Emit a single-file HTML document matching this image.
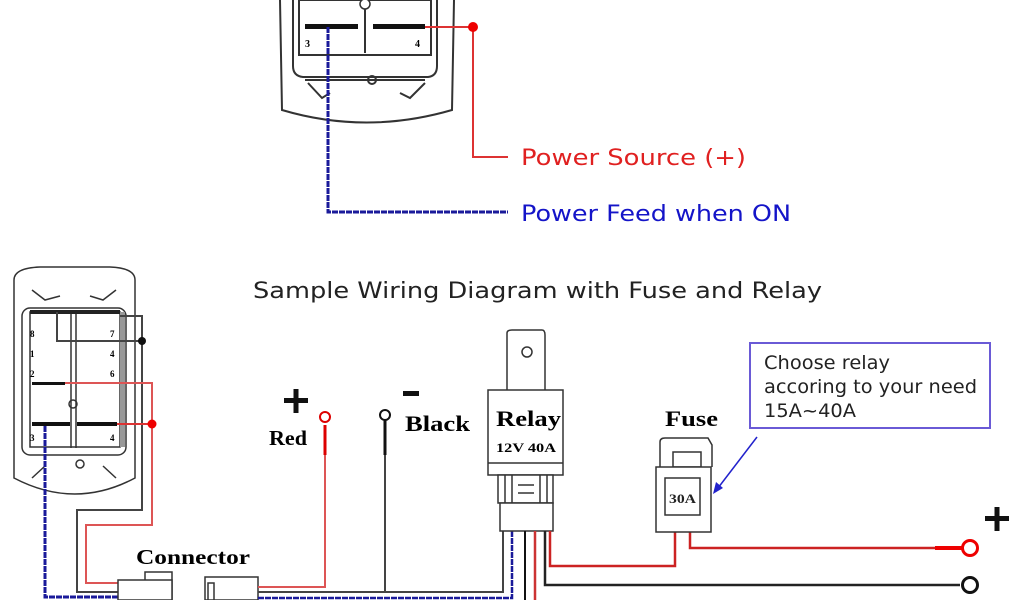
<!DOCTYPE html>
<html><head><meta charset="utf-8"><style>
html,body{margin:0;padding:0;background:#fff;width:1024px;height:600px;overflow:hidden}
svg{display:block}
.sans{font-family:"DejaVu Sans","Liberation Sans",sans-serif}
.ser{font-family:"Liberation Serif",serif;font-weight:bold}
</style></head><body>
<svg width="1024" height="600" viewBox="0 0 1024 600" xmlns="http://www.w3.org/2000/svg">
<!-- TOP SWITCH -->
<g fill="none" stroke="#333" stroke-width="2">
<path d="M280 0 L282 110 Q366 135 452 110 L454 0"/>
<path d="M293 0 L293 66 Q293 76 303 77 L428 77 Q437 76 437 66 L437 0"/>
<rect x="299" y="0" width="132" height="55"/>
<path d="M305 80 L425 80 M308 83 L322 98 L330 93 M425 83 L410 98 L400 93"/>
<circle cx="372" cy="80" r="4"/>
<line x1="365" y1="0" x2="365" y2="53"/>
</g>
<rect x="305" y="24" width="53" height="5" fill="#111"/>
<rect x="373" y="24" width="52" height="5" fill="#111"/>
<circle cx="365" cy="4" r="5" fill="#fff" stroke="#333" stroke-width="1.5"/>
<text x="305" y="47" font-size="10" class="ser">3</text>
<text x="415" y="47" font-size="10" class="ser">4</text>
<path d="M425 27 L473 27 L473 157 L508 157" fill="none" stroke="#d33" stroke-width="2"/>
<circle cx="473" cy="27" r="5" fill="#e00"/>
<path d="M328 27 L328 212 L508 212" fill="none" stroke="#1a1a9a" stroke-width="3" stroke-dasharray="6 1"/>
<text x="521" y="165" font-size="22" fill="#e02020" class="sans" textLength="225" lengthAdjust="spacingAndGlyphs">Power Source (+)</text>
<text x="521" y="221" font-size="22" fill="#1414c8" class="sans" textLength="270" lengthAdjust="spacingAndGlyphs">Power Feed when ON</text>
<text x="253" y="298" font-size="22" fill="#222" class="sans" textLength="569" lengthAdjust="spacingAndGlyphs">Sample Wiring Diagram with Fuse and Relay</text>

<!-- BOTTOM SWITCH -->
<g fill="none" stroke="#333" stroke-width="1.5">
<path d="M14 280 Q14 268 40 267 L110 267 Q135 268 135 280 L135 478 Q75 510 14 478 Z"/>
<rect x="22" y="308" width="104" height="147" rx="8"/>
<rect x="30" y="312" width="90" height="135"/>
<line x1="71" y1="310" x2="71" y2="448"/><line x1="76" y1="310" x2="76" y2="448"/>
<path d="M32 290 L45 300 L60 296 M116 290 L103 300 L90 296 M32 478 L45 466 M116 478 L103 466"/>
<circle cx="73" cy="404" r="4"/>
<circle cx="80" cy="464" r="4"/>
</g>
<rect x="30" y="310" width="90" height="4" fill="#222"/>
<rect x="120" y="312" width="5" height="135" fill="#999"/>
<rect x="32" y="422" width="38" height="4" fill="#111"/>
<rect x="77" y="422" width="40" height="4" fill="#111"/>
<rect x="32" y="382" width="33" height="3" fill="#111"/>
<g font-size="9" class="ser"><text x="30" y="337">8</text><text x="30" y="357">1</text><text x="30" y="377">2</text><text x="30" y="441">3</text>
<text x="110" y="337">7</text><text x="110" y="357">4</text><text x="110" y="377">6</text><text x="110" y="441">4</text></g>
<path d="M57 312 L57 341 L142 341 M120 316 L142 316 L142 510 L77 510 L77 592 L118 592" fill="none" stroke="#444" stroke-width="2"/>
<circle cx="142" cy="341" r="4" fill="#111"/>
<path d="M65 383 L152 383 L152 525 L86 525 L86 583 L120 583" fill="none" stroke="#d55" stroke-width="2"/>
<line x1="117" y1="424" x2="152" y2="424" stroke="#d33" stroke-width="2"/>
<circle cx="152" cy="424" r="4.5" fill="#e00"/>
<path d="M45 426 L45 597 L118 597" fill="none" stroke="#1a1a9a" stroke-width="3" stroke-dasharray="6 1"/>

<!-- Connector -->
<text x="136" y="564" font-size="21" class="ser" textLength="114" lengthAdjust="spacingAndGlyphs">Connector</text>
<g fill="#fff" stroke="#333" stroke-width="1.5">
<rect x="145" y="572" width="27" height="28"/>
<rect x="118" y="580" width="54" height="20"/>
<rect x="205" y="577" width="53" height="23"/>
<rect x="208" y="583" width="6" height="17"/>
</g>
<path d="M258 587 L325 587 L325 425" fill="none" stroke="#d55" stroke-width="2"/>
<line x1="325" y1="425" x2="325" y2="455" stroke="#d00" stroke-width="3"/>
<circle cx="325" cy="417" r="5" fill="#fff" stroke="#d00" stroke-width="2"/>
<path d="M258 592 L503 592 L503 530" fill="none" stroke="#444" stroke-width="2"/>
<line x1="385" y1="420" x2="385" y2="592" stroke="#444" stroke-width="2"/>
<line x1="385" y1="420" x2="385" y2="455" stroke="#111" stroke-width="3"/>
<circle cx="385" cy="415" r="5" fill="#fff" stroke="#111" stroke-width="2"/>
<path d="M258 598 L512 598 L512 530" fill="none" stroke="#1a1a9a" stroke-width="2.5" stroke-dasharray="6 1"/>
<rect x="284" y="398" width="24" height="5" fill="#111"/><rect x="293.5" y="389" width="5" height="24" fill="#111"/>
<text x="269" y="445" font-size="21" class="ser" textLength="38" lengthAdjust="spacingAndGlyphs">Red</text>
<rect x="403" y="391" width="16" height="5" fill="#111"/>
<text x="405" y="431" font-size="22" class="ser" textLength="65" lengthAdjust="spacingAndGlyphs">Black</text>

<!-- Relay -->
<g fill="#fff" stroke="#333" stroke-width="1.5">
<path d="M507 390 L507 333 Q507 330 512 330 L542 330 Q545 330 545 335 L545 390"/>
<rect x="488" y="390" width="75" height="85"/>
<line x1="488" y1="463" x2="563" y2="463"/>
<rect x="498" y="475" width="55" height="28"/>
<rect x="500" y="503" width="53" height="28"/>
<path d="M505 475 L505 503 M512 475 L512 503 M540 475 L540 503 M547 475 L547 503 M518 485 L534 485 M518 493 L534 493"/>
</g>
<circle cx="527" cy="352" r="5" fill="#fff" stroke="#333" stroke-width="1.5"/>
<text x="496" y="426" font-size="22" class="ser" textLength="65" lengthAdjust="spacingAndGlyphs">Relay</text>
<text x="496" y="452" font-size="13" class="ser" textLength="60" lengthAdjust="spacingAndGlyphs">12V 40A</text>
<line x1="525" y1="531" x2="525" y2="600" stroke="#111" stroke-width="2"/>
<line x1="535" y1="531" x2="535" y2="600" stroke="#c33" stroke-width="2.5"/>
<path d="M550 531 L550 566 L675 566 L675 532" fill="none" stroke="#c22" stroke-width="2.5"/>
<path d="M545 531 L545 585 L960 585" fill="none" stroke="#222" stroke-width="2.5"/>
<circle cx="970" cy="585" r="7.5" fill="#fff" stroke="#111" stroke-width="3"/>
<path d="M690 532 L690 548 L960 548" fill="none" stroke="#c22" stroke-width="2.5"/>
<line x1="935" y1="548" x2="962" y2="548" stroke="#e00" stroke-width="4"/>
<circle cx="970" cy="548" r="7.5" fill="#fff" stroke="#e00" stroke-width="3"/>
<rect x="985" y="516" width="24" height="5" fill="#111"/><rect x="994.5" y="507" width="5" height="24" fill="#111"/>

<!-- Fuse -->
<text x="665" y="426" font-size="22" class="ser" textLength="53" lengthAdjust="spacingAndGlyphs">Fuse</text>
<g fill="#fff" stroke="#333" stroke-width="1.5">
<path d="M660 467 L660 442 Q660 438 665 438 L708 438 L712 445 L712 467"/>
<rect x="673" y="452" width="28" height="15"/>
<rect x="656" y="467" width="55" height="65"/>
<rect x="665" y="478" width="35" height="37"/>
</g>
<text x="669" y="503" font-size="13" class="ser" fill="#222" textLength="27" lengthAdjust="spacingAndGlyphs">30A</text>

<!-- info box -->
<rect x="750" y="343" width="240" height="85" fill="#fff" stroke="#6a5ad6" stroke-width="2"/>
<g font-size="19" fill="#222" class="sans"><text x="764" y="369" textLength="126" lengthAdjust="spacingAndGlyphs">Choose relay</text><text x="764" y="393" textLength="213" lengthAdjust="spacingAndGlyphs">accoring to your need</text><text x="764" y="417" textLength="92" lengthAdjust="spacingAndGlyphs">15A~40A</text></g>
<line x1="757" y1="437" x2="718" y2="488" stroke="#2222cc" stroke-width="1.5"/>
<path d="M713 494 L716 482 L723 488 Z" fill="#2222cc"/>
</svg>
</body></html>
